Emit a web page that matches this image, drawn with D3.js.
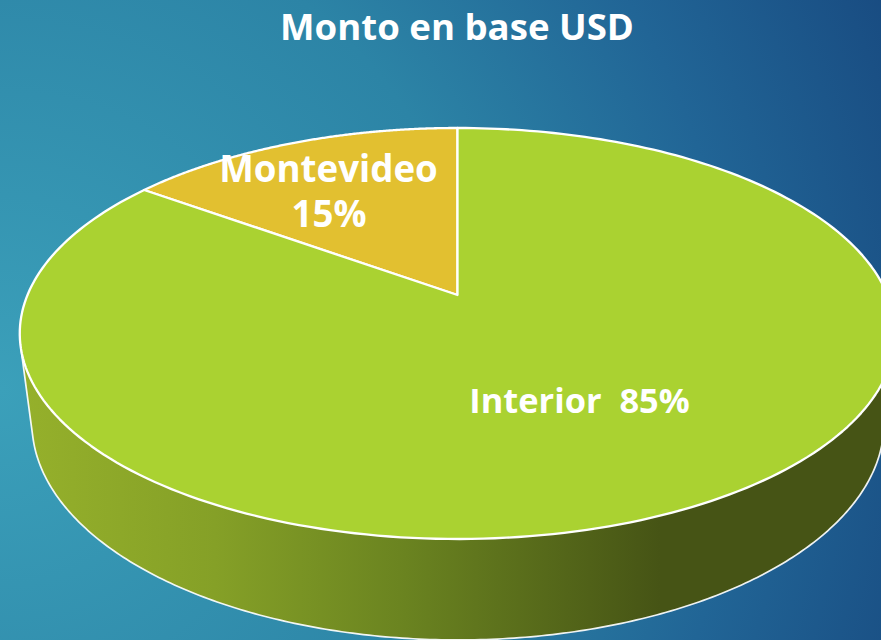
<!DOCTYPE html>
<html><head><meta charset="utf-8">
<script src="https://cdn.jsdelivr.net/npm/d3@7"></script>
<style>html,body{margin:0;padding:0;background:#2a7a9c}svg{display:block}text{white-space:pre}</style></head>
<body><svg id="c" width="881" height="640"></svg>
<script>
const categories = ["Montevideo", "Interior"];
const values = [15, 85];
const percentLabels = ["15%", "85%"];
const sliceColors = ["#E2C030", "#AAD231"];
const titleText = "Monto en base USD";

const svg = d3.select("#c");
const defs = svg.append("defs");
const bg = defs.append("radialGradient").attr("id","bg").attr("gradientUnits","userSpaceOnUse")
  .attr("cx",0).attr("cy",390).attr("r",985);
[[0,"#3BA0BA"],[0.5,"#2C84A6"],[0.75,"#216596"],[1,"#184A80"]].forEach(s=>bg.append("stop").attr("offset",s[0]).attr("stop-color",s[1]));
const wallGrad = defs.append("linearGradient").attr("id","wall").attr("gradientUnits","userSpaceOnUse")
  .attr("x1",25).attr("x2",660).attr("y1",0).attr("y2",0);
[[0,"#95B02B"],[0.3,"#85A027"],[0.6,"#6A8320"],[1,"#465415"]].forEach(s=>wallGrad.append("stop").attr("offset",s[0]).attr("stop-color",s[1]));
svg.append("rect").attr("width",881).attr("height",640).attr("fill","url(#bg)");

// perspective projection of a pie lying on a plane
const K = 0.1873;
const project = (g, a) => {
  const X = Math.sin(a), Y = Math.cos(a), d = 1 + K * Y;
  return [g.x + g.b * X / d, g.y - g.a * Y / d];
};
const topPlane = {x:457.5, y:295, a:198.3, b:430};
const basePlane = {x:458, y:382.3, a:209.4, b:418.5};

const pie = d3.pie().sort(null).startAngle(-2*Math.PI*values[0]/100).endAngle(2*Math.PI*(1-values[0]/100));
const arcs = pie(values);
const line = d3.line();
const sample = (a0, a1, n=240) => d3.range(n+1).map(i => a0 + (a1-a0)*i/n);

// side wall of the disc (front part, inside the Interior slice)
const angles = sample(105*Math.PI/180, 255*Math.PI/180);
const wallPts = angles.map(a=>project(topPlane,a)).concat(angles.slice().reverse().map(a=>project(basePlane,a)));
svg.append("path").attr("d",line(wallPts)+"Z").attr("fill","url(#wall)");
const wallEdge = [project(topPlane,angles[0])].concat(angles.map(a=>project(basePlane,a)),[project(topPlane,angles[angles.length-1])]);
svg.append("path").attr("d",line(wallEdge)).attr("fill","none").attr("stroke","#fff").attr("stroke-width",1.7).attr("stroke-opacity",.92);

// top faces
arcs.forEach((d,i)=>{
  const pts=[[topPlane.x,topPlane.y]].concat(sample(d.startAngle,d.endAngle).map(a=>project(topPlane,a)));
  svg.append("path").attr("d",line(pts)+"Z").attr("fill",sliceColors[i]).attr("stroke","#fff").attr("stroke-width",2.3).attr("stroke-linejoin","round");
});

// text
const FONT = "'Open Sans', Lato, sans-serif";
const txt=(s,x,y,size)=>svg.append("text").attr("x",x).attr("y",y).attr("text-anchor","middle")
  .attr("font-family",FONT).attr("font-weight",700).attr("font-size",size).attr("fill","#fff").text(s);
txt(titleText,457,40,36.6);
txt(categories[0],328.5,182,36.7);
txt(percentLabels[0],329,227,36.7);
txt(categories[1]+"  "+percentLabels[1],579.5,413,34.4);
</script></body></html>
